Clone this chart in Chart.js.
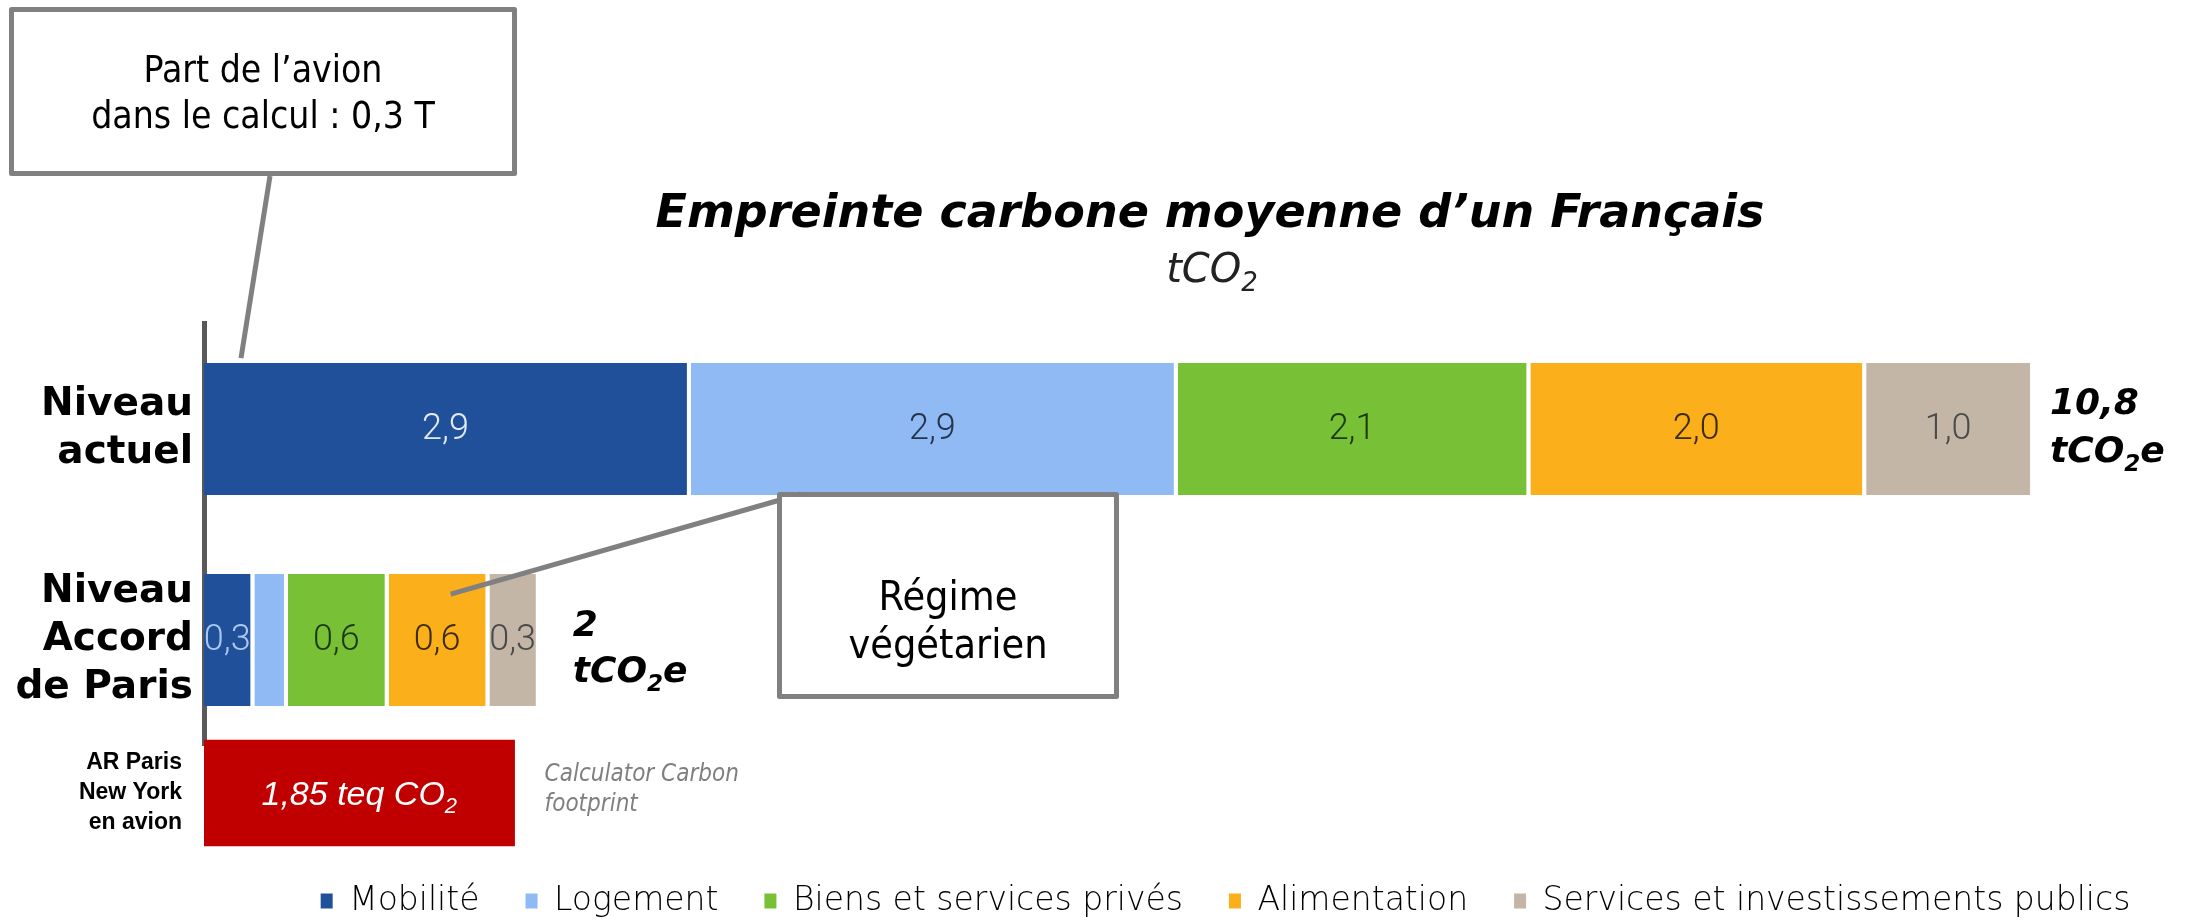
<!DOCTYPE html>
<html lang="fr">
<head>
<meta charset="utf-8">
<title>Empreinte carbone moyenne d’un Français</title>
<script src="https://cdn.jsdelivr.net/npm/chart.js@4.4.1/dist/chart.umd.min.js"></script>
<style>
  html, body { margin: 0; padding: 0; width: 2190px; height: 920px; overflow: hidden; background: #ffffff; }
  canvas { position: absolute; left: 0; top: 0; }
</style>
</head>
<body>
<canvas id="mainChart" width="2520" height="1000"></canvas>
<canvas id="flightChart" width="2520" height="1000"></canvas>
<script>
"use strict";

// Data (tCO2 per person)
const categories = ["Mobilité", "Logement", "Biens et services privés", "Alimentation", "Services et investissements publics"];
const rowLabels = [["Niveau", "actuel"], ["Niveau", "Accord", "de Paris"]];
const niveauActuel = [2.9, 2.9, 2.1, 2.0, 1.0];
const niveauAccordParis = [0.3, 0.2, 0.6, 0.6, 0.3];
const rowTotals = [10.8, 2];
const flightLabel = ["AR Paris", "New York", "en avion"];
const flightValue = [1.85];
const xMax = 13.3;

// Styles
const categoryColors = ["#21509a", "#8fbaf3", "#78c035", "#fbaf1a", "#c4b6a6"];
const valueTextColors = [
  ["#e2eaf4", "#a9c8ee"],
  ["#26344c", "#26344c"],
  ["#1b3a0b", "#1b3a0b"],
  ["#3d2b05", "#3d2b05"],
  ["#4a4a4a", "#4a4a4a"],
];
const totalGaps = [16, 33];
const totalOffsets = [[-15, 33], [-4, 42]];
const calloutGray = "#808080";

// Shared horizontal geometry so both charts use the same x scale
const sharedPadding = { left: 14, right: 83 };
const fixAxisWidth = (scale) => { scale.width = 190; };

function formatValue(v) {
  return v.toFixed(1).replace(".", ",");
}
function formatTotal(v) {
  return String(v).replace(".", ",");
}

// Draws a run of text where some parts are subscripts
function drawParts(ctx, parts, x, y, font, subFont, subDrop, align, color) {
  let total = 0;
  parts.forEach((p) => {
    ctx.font = p[1] ? subFont : font;
    total += ctx.measureText(p[0]).width;
  });
  let cx = align === "center" ? x - total / 2 : x;
  ctx.textAlign = "left";
  ctx.textBaseline = "alphabetic";
  ctx.fillStyle = color;
  parts.forEach((p) => {
    ctx.font = p[1] ? subFont : font;
    ctx.fillText(p[0], cx, p[1] ? y + subDrop : y);
    cx += ctx.measureText(p[0]).width;
  });
}

function drawCallout(ctx, box, lines, size, firstBaseline, lineGap) {
  const [bx, by, bw, bh] = box;
  ctx.fillStyle = "#ffffff";
  ctx.fillRect(bx, by, bw, bh);
  ctx.strokeStyle = calloutGray;
  ctx.lineWidth = 5;
  ctx.lineJoin = "round";
  ctx.strokeRect(bx, by, bw, bh);
  ctx.fillStyle = "#000000";
  ctx.font = size + 'px "DejaVu Sans Condensed", "DejaVu Sans"';
  ctx.textAlign = "center";
  ctx.textBaseline = "alphabetic";
  lines.forEach((line, i) => {
    ctx.fillText(line, bx + bw / 2, firstBaseline + i * lineGap);
  });
}

function drawLeader(ctx, from, to) {
  ctx.strokeStyle = calloutGray;
  ctx.lineWidth = 5;
  ctx.lineCap = "butt";
  ctx.beginPath();
  ctx.moveTo(from[0], from[1]);
  ctx.lineTo(to[0], to[1]);
  ctx.stroke();
}

// Labels, totals, callouts and title for the main chart
const mainDecorations = {
  id: "mainDecorations",
  afterDatasetsDraw(chart) {
    const ctx = chart.ctx;
    ctx.save();

    // Values inside each segment
    ctx.font = '300 36px Roboto, "Liberation Sans"';
    ctx.textAlign = "center";
    ctx.textBaseline = "middle";
    chart.data.datasets.forEach((ds, i) => {
      chart.getDatasetMeta(i).data.forEach((bar, j) => {
        const w = Math.abs(bar.x - bar.base);
        if (w < 40) return;
        ctx.fillStyle = valueTextColors[i][j];
        ctx.fillText(formatValue(ds.data[j]), (bar.x + bar.base) / 2 - 2, bar.y + 1);
      });
    });

    // Row totals at the end of each bar
    rowTotals.forEach((total, j) => {
      let end = 0;
      chart.data.datasets.forEach((ds, i) => {
        end = Math.max(end, chart.getDatasetMeta(i).data[j].x);
      });
      const y = chart.getDatasetMeta(0).data[j].y;
      const x = end + totalGaps[j];
      const font = 'italic bold 36px "DejaVu Sans"';
      drawParts(ctx, [[formatTotal(total)]], x, y + totalOffsets[j][0], font, font, 0, "left", "#000");
      drawParts(ctx, [["tCO"], ["2", true], ["e"]], x, y + totalOffsets[j][1], font,
        'italic bold 23px "DejaVu Sans"', 9, "left", "#000");
    });

    // Callout leaders, anchored on the bars they point at
    const mob = chart.getDatasetMeta(0).data[0];
    drawLeader(ctx, [270, 176], [mob.base + 37, mob.y - mob.height / 2 - 5]);
    const alim = chart.getDatasetMeta(3).data[1];
    drawLeader(ctx, [801, 494], [alim.base + 62, alim.y - alim.height / 2 + 20]);

    drawCallout(ctx, [11.5, 9.5, 503, 164], ["Part de l’avion", "dans le calcul : 0,3 T"], 37, 82, 46);
    drawCallout(ctx, [779.5, 494.5, 337, 202], ["Régime", "végétarien"], 41, 610, 48);

    // Title and unit
    ctx.font = 'italic bold 46px "DejaVu Sans"';
    ctx.fillStyle = "#000";
    ctx.textAlign = "center";
    ctx.textBaseline = "alphabetic";
    ctx.fillText("Empreinte carbone moyenne d’un Français", 1210, 227);
    drawParts(ctx, [["tCO"], ["2", true]], 1212, 282, 'italic 300 40px "DejaVu Sans"', 'italic 300 26px "DejaVu Sans"', 9, "center", "#222");

    ctx.restore();
  },
};

// Label and source note for the flight bar
const flightDecorations = {
  id: "flightDecorations",
  afterDatasetsDraw(chart) {
    const ctx = chart.ctx;
    const bar = chart.getDatasetMeta(0).data[0];
    ctx.save();
    drawParts(ctx, [[formatTotal(flightValue[0]) + " teq CO"], ["2", true]], (bar.x + bar.base) / 2, bar.y + 12,
      'italic 34px "Liberation Sans"', 'italic 22px "Liberation Sans"', 8, "center", "#ffffff");
    ctx.font = 'italic 24px "DejaVu Sans Condensed", "DejaVu Sans"';
    ctx.fillStyle = "#7f7f7f";
    ctx.textAlign = "left";
    ctx.fillText("Calculator Carbon", bar.x + 30, bar.y - 12);
    ctx.fillText("footprint", bar.x + 30, bar.y + 18);
    ctx.restore();
  },
};

// Main stacked bar chart: current level vs Paris agreement level, with the legend
new Chart(document.getElementById("mainChart"), {
  type: "bar",
  data: {
    labels: rowLabels,
    datasets: categories.map((name, i) => ({
      label: name,
      data: [niveauActuel[i], niveauAccordParis[i]],
      backgroundColor: categoryColors[i],
      borderColor: "#ffffff",
      borderWidth: { top: 0, bottom: 0, left: 0, right: 4 },
      borderSkipped: false,
      barPercentage: 0.625,
      categoryPercentage: 1,
    })),
  },
  options: {
    indexAxis: "y",
    responsive: false,
    animation: false,
    events: [],
    layout: { padding: { top: 323.5, bottom: 72.5, left: sharedPadding.left, right: sharedPadding.right } },
    scales: {
      // x axis draws nothing; it only keeps the space above the legend
      x: {
        stacked: true,
        min: 0,
        max: xMax,
        ticks: { display: false },
        grid: { display: false, drawTicks: false },
        border: { display: false },
        afterFit: (scale) => { scale.height = 93; },
      },
      y: {
        stacked: true,
        afterFit: fixAxisWidth,
        grid: { display: false, drawTicks: false },
        border: { display: true, color: "#595959", width: 5 },
        ticks: {
          color: "#000000",
          padding: 11,
          font: { family: "DejaVu Sans", weight: "bold", size: 39, lineHeight: 1.24 },
        },
      },
    },
    plugins: {
      tooltip: { enabled: false },
      legend: {
        position: "bottom",
        labels: {
          boxWidth: 12,
          boxHeight: 15,
          padding: 46,
          color: "#595959",
          font: { family: "DejaVu Sans", size: 33, weight: 300 },
          generateLabels: (chart) => chart.data.datasets.map((ds, i) => ({
            text: ds.label,
            fillStyle: ds.backgroundColor,
            strokeStyle: ds.backgroundColor,
            lineWidth: 0,
            hidden: false,
            datasetIndex: i,
          })),
        },
      },
    },
  },
  plugins: [mainDecorations],
});

// Flight bar (Paris - New York return trip)
new Chart(document.getElementById("flightChart"), {
  type: "bar",
  data: {
    labels: [flightLabel],
    datasets: [{
      label: flightLabel.join(" "),
      data: flightValue,
      backgroundColor: "#c00000",
      barThickness: 106,
    }],
  },
  options: {
    indexAxis: "y",
    responsive: false,
    animation: false,
    events: [],
    layout: { padding: { top: 733, bottom: 147, left: sharedPadding.left, right: sharedPadding.right } },
    scales: {
      x: { min: 0, max: xMax, display: false },
      y: {
        afterFit: fixAxisWidth,
        grid: { display: false, drawTicks: false },
        border: { display: false },
        ticks: {
          color: "#000000",
          padding: 22,
          font: { family: "Liberation Sans", weight: "bold", size: 23, lineHeight: 1.3 },
        },
      },
    },
    plugins: {
      legend: { display: false },
      tooltip: { enabled: false },
    },
  },
  plugins: [flightDecorations],
});
</script>
</body>
</html>
